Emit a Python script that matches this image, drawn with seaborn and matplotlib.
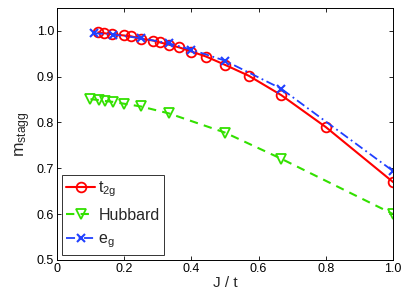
import matplotlib
matplotlib.use("Agg")
import matplotlib.pyplot as plt
import seaborn as sns

# data
t2g_x = [0.123, 0.140, 0.165, 0.200, 0.222, 0.250, 0.286, 0.306, 0.333, 0.364,
         0.400, 0.444, 0.500, 0.571, 0.667, 0.800, 1.000]
t2g_y = [0.997, 0.995, 0.993, 0.990, 0.988, 0.983, 0.979, 0.975, 0.970, 0.964,
         0.955, 0.944, 0.926, 0.902, 0.860, 0.790, 0.670]

hub_x = [0.100, 0.125, 0.143, 0.167, 0.200, 0.250, 0.333, 0.500, 0.667, 1.000]
hub_y = [0.851, 0.849, 0.847, 0.845, 0.841, 0.835, 0.820, 0.778, 0.721, 0.600]

eg_x = [0.111, 0.167, 0.250, 0.333, 0.400, 0.500, 0.667, 1.000]
eg_y = [0.995, 0.992, 0.984, 0.973, 0.959, 0.935, 0.874, 0.694]

x_ticks = [0, 0.2, 0.4, 0.6, 0.8, 1.0]
y_ticks = [0.5, 0.6, 0.7, 0.8, 0.9, 1.0]

sns.set_style("ticks")
plt.rcParams["font.family"] = ["Liberation Sans", "DejaVu Sans"]
plt.rcParams["mathtext.fontset"] = "custom"
plt.rcParams["mathtext.rm"] = "Liberation Sans"
plt.rcParams["mathtext.it"] = "Liberation Sans"

RED = "#ff0000"
GREEN = "#33e000"
BLUE = "#2040ff"

fig = plt.figure(figsize=(4.09, 2.97), dpi=100)
ax = fig.add_axes([0.139, 0.125, 0.822, 0.848])

sns.lineplot(x=t2g_x, y=t2g_y, ax=ax, color=RED, linestyle="-", lw=1.5,
             marker="o", markersize=7, markerfacecolor="none",
             markeredgecolor=RED, markeredgewidth=1.3,
             label=r"$\mathrm{t_{2g}}$", sort=False)
sns.lineplot(x=hub_x, y=hub_y, ax=ax, color=GREEN, linestyle=(0, (4, 3)), lw=1.5,
             marker="v", markersize=7, markerfacecolor="none",
             markeredgecolor=GREEN, markeredgewidth=1.3,
             label="Hubbard", sort=False)
sns.lineplot(x=eg_x, y=eg_y, ax=ax, color=BLUE, linestyle=(0, (5, 2, 1, 2)), lw=1.3,
             marker="x", markersize=6, markeredgewidth=1.5,
             markeredgecolor=BLUE, markerfacecolor=BLUE,
             label=r"$\mathrm{e_g}$", sort=False)

ax.set_xlim(0, 1.0)
ax.set_ylim(0.5, 1.05)
ax.set_xticks(x_ticks)
ax.set_xticklabels(["0", "0.2", "0.4", "0.6", "0.8", "1.0"])
ax.set_yticks(y_ticks)
ax.set_yticklabels(["0.5", "0.6", "0.7", "0.8", "0.9", "1.0"])
ax.tick_params(direction="in", top=True, right=True, length=3, width=0.6,
               labelsize=9, colors="black", pad=2)
for s in ax.spines.values():
    s.set_visible(True)
    s.set_linewidth(0.7)
    s.set_color("black")

ax.set_xlabel("J / t", fontsize=11, labelpad=1)
ax.set_ylabel(r"$\mathrm{m_{stagg}}$", fontsize=12.5, labelpad=3)

leg = ax.legend(loc="lower left", fontsize=11.5, frameon=True, fancybox=False,
                edgecolor="black", handlelength=1.8, handletextpad=0.2,
                borderpad=0.3, labelspacing=0.55, borderaxespad=0.3)
leg.get_frame().set_linewidth(0.7)

fig.savefig("out.png", dpi=100)
